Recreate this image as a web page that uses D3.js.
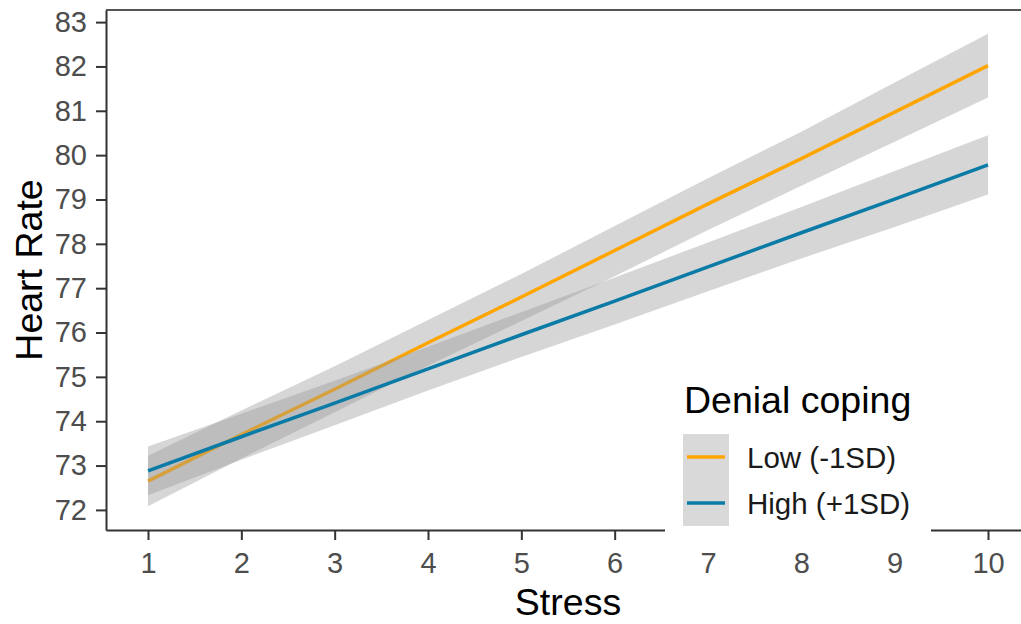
<!DOCTYPE html>
<html>
<head>
<meta charset="utf-8">
<script src="https://cdn.jsdelivr.net/npm/d3@7"></script>
<style>
  body { margin: 0; background: #fff; }
  svg { display: block; font-family: "Liberation Sans", Arial, sans-serif; }
</style>
</head>
<body>
<svg id="chart"></svg>
<script>
// values
const stress = [1, 2, 3, 4, 5, 6, 7, 8, 9, 10];
const lowFit = [72.65, 73.70, 74.72, 75.77, 76.80, 77.85, 78.90, 79.92, 80.97, 82.02];
const lowLower = [72.08, 73.16, 74.20, 75.25, 76.26, 77.27, 78.31, 79.31, 80.30, 81.30];
const lowUpper = [73.22, 74.24, 75.24, 76.28, 77.32, 78.40, 79.48, 80.53, 81.64, 82.74];
const highFit = [72.88, 73.65, 74.41, 75.18, 75.95, 76.71, 77.48, 78.25, 79.01, 79.78];
const highLower = [72.33, 73.13, 73.91, 74.69, 75.45, 76.18, 76.93, 77.67, 78.38, 79.11];
const highUpper = [73.43, 74.17, 74.91, 75.68, 76.46, 77.24, 78.03, 78.83, 79.64, 80.45];
const xTicks = [1, 2, 3, 4, 5, 6, 7, 8, 9, 10];
const yTicks = [72, 73, 74, 75, 76, 77, 78, 79, 80, 81, 82, 83];
const groupNames = ["Low (-1SD)", "High (+1SD)"];
const groupColors = ["#FFA500", "#0A7BA6"];

const W = 1021, H = 624;
const margin = { left: 106, top: 10, right: -9, bottom: 94 };
const width = W - margin.left - margin.right;
const height = H - margin.top - margin.bottom;

const svg = d3.select("#chart").attr("width", W).attr("height", H);
const g = svg.append("g").attr("transform", "translate(" + margin.left + "," + margin.top + ")");

// ggplot style 5% expansion on both scales
const xExt = d3.extent(stress);
const xPad = (xExt[1] - xExt[0]) * 0.05;
const x = d3.scaleLinear().domain([xExt[0] - xPad, xExt[1] + xPad]).range([0, width]);

const yExt = [d3.min(lowLower.concat(highLower)), d3.max(lowUpper.concat(highUpper))];
const yPad = (yExt[1] - yExt[0]) * 0.05;
const y = d3.scaleLinear().domain([yExt[0] - yPad, yExt[1] + yPad]).range([height, 0]);

const groups = [
  { name: groupNames[0], color: groupColors[0], fit: lowFit, lo: lowLower, hi: lowUpper },
  { name: groupNames[1], color: groupColors[1], fit: highFit, lo: highLower, hi: highUpper }
];

const area = d3.area()
  .x(d => x(d.x))
  .y0(d => y(d.lo))
  .y1(d => y(d.hi));
const line = d3.line()
  .x(d => x(d.x))
  .y(d => y(d.v));

// ribbon then line, per group
groups.forEach(grp => {
  const pts = stress.map((s, i) => ({ x: s, v: grp.fit[i], lo: grp.lo[i], hi: grp.hi[i] }));
  g.append("path")
    .attr("d", area(pts))
    .attr("fill", "#999999")
    .attr("fill-opacity", 0.4);
  g.append("path")
    .attr("d", line(pts))
    .attr("fill", "none")
    .attr("stroke", grp.color)
    .attr("stroke-width", 3.5);
});

// top border of panel
g.append("line")
  .attr("x1", 0).attr("x2", width)
  .attr("y1", 0).attr("y2", 0)
  .attr("stroke", "#555").attr("stroke-width", 2);

// axes
const xAxis = g.append("g")
  .attr("transform", "translate(0," + height + ")")
  .call(d3.axisBottom(x).tickValues(xTicks).tickSize(10).tickPadding(12).tickSizeOuter(0));
const yAxis = g.append("g")
  .call(d3.axisLeft(y).tickValues(yTicks).tickSize(10).tickPadding(9).tickSizeOuter(0));

[xAxis, yAxis].forEach(ax => {
  ax.select(".domain").attr("stroke", "#333").attr("stroke-width", 2);
  ax.selectAll(".tick line").attr("stroke", "#333").attr("stroke-width", 2);
  ax.selectAll(".tick text")
    .attr("fill", "#4D4D4D")
    .style("font-size", "29px")
    .style("font-family", "Liberation Sans, Arial, sans-serif");
});

// axis titles
svg.append("text")
  .attr("x", margin.left + width / 2)
  .attr("y", 615)
  .attr("text-anchor", "middle")
  .style("font-size", "37.5px")
  .text("Stress");

svg.append("text")
  .attr("transform", "translate(42," + (margin.top + height / 2) + ") rotate(-90)")
  .attr("text-anchor", "middle")
  .style("font-size", "37.5px")
  .text("Heart Rate");

// legend inside the panel
const legend = svg.append("g");
legend.append("rect")
  .attr("x", 665).attr("y", 372)
  .attr("width", 266).attr("height", 170)
  .attr("fill", "#fff");
legend.append("text")
  .attr("x", 684).attr("y", 413)
  .style("font-size", "37.5px")
  .text("Denial coping");

groups.forEach((grp, i) => {
  const ky = 434 + i * 46;
  legend.append("rect")
    .attr("x", 683).attr("y", ky)
    .attr("width", 46).attr("height", 46)
    .attr("fill", "#D9D9D9");
  legend.append("line")
    .attr("x1", 687).attr("x2", 725)
    .attr("y1", ky + 23).attr("y2", ky + 23)
    .attr("stroke", grp.color).attr("stroke-width", 3.5);
  legend.append("text")
    .attr("x", 747).attr("y", ky + 23)
    .attr("dy", "0.36em")
    .style("font-size", "29.5px")
    .attr("fill", "#1a1a1a")
    .text(grp.name);
});
</script>
</body>
</html>
